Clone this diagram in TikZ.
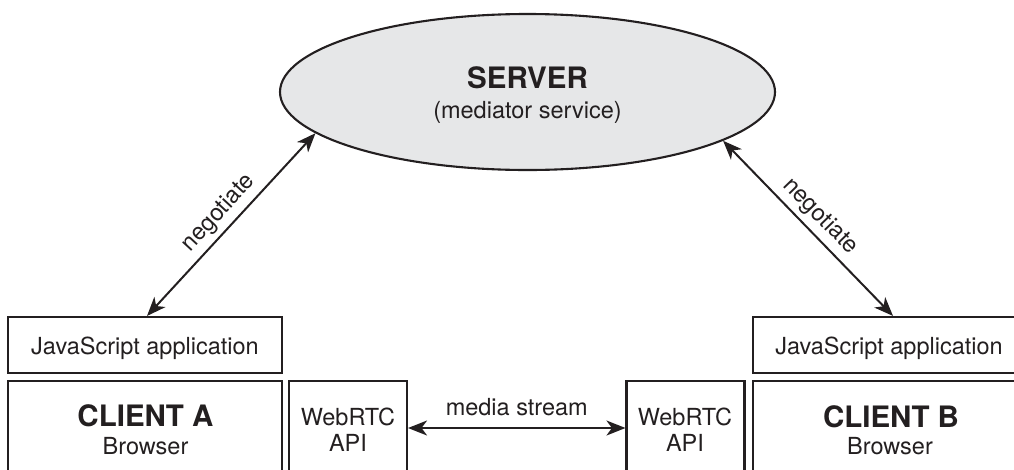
\documentclass[tikz,border=0pt]{standalone}
\usepackage{fontspec}
\setmainfont{TeX Gyre Heros}
\usetikzlibrary{shapes.geometric,arrows.meta}
\definecolor{ink}{HTML}{231F20}
\definecolor{servfill}{HTML}{E6E7E8}
\begin{document}
\begin{tikzpicture}[x=1pt,y=-1pt,
  box/.style={draw=ink, line width=2.1pt, inner sep=0pt},
  txt/.style={font=\fontsize{23.5pt}{27pt}\selectfont, text=ink, inner sep=0pt, anchor=base},
  ttl/.style={font=\fontsize{29.5pt}{34pt}\selectfont\bfseries, text=ink, inner sep=0pt, anchor=base},
  lbl/.style={font=\fontsize{23.5pt}{27pt}\selectfont, text=ink, inner sep=5pt},
  arr/.style={draw=ink, line width=2pt, {Stealth[length=19pt,width=15pt,inset=5.5pt]}-{Stealth[length=19pt,width=15pt,inset=5.5pt]}}
]
\clip (0,0) rectangle (1014,469);

% server
\node[ellipse, draw=ink, fill=servfill, line width=2.1pt, inner sep=0pt,
      minimum width=495pt, minimum height=156pt] (server) at (527.5,92) {};
\node[ttl] (serverTitle) at (527.5,88.3) {SERVER};
\node[txt] (serverSub) at (527.5,118.3) {(mediator service)};

% client A
\node[box, minimum width=274pt, minimum height=56pt] (jsA) at (145,345) {};
\node[txt] (jsAText) at (145,354) {JavaScript application};
\node[box, minimum width=274pt, minimum height=94pt] (clientA) at (145,428) {};
\node[ttl] (clientATitle) at (145.5,426.7) {CLIENT A};
\node[txt] (clientASub) at (145.5,454) {Browser};
\node[box, minimum width=118pt, minimum height=94pt] (webA) at (348,428) {};
\node[txt] (webAText1) at (348,425) {WebRTC};
\node[txt] (webAText2) at (348,451.7) {API};

% client B
\node[box, minimum width=274pt, minimum height=56pt] (jsB) at (890,345) {};
\node[txt] (jsBText) at (889,354) {JavaScript application};
\node[box, minimum width=274pt, minimum height=94pt] (clientB) at (890,428) {};
\node[ttl] (clientBTitle) at (891,427.5) {CLIENT B};
\node[txt] (clientBSub) at (890,454) {Browser};
\node[box, minimum width=118pt, minimum height=94pt] (webB) at (685.5,428) {};
\node[txt] (webBText1) at (685,425) {WebRTC};
\node[txt] (webBText2) at (685,451.7) {API};

% connectors
\draw[arr] ([xshift=2pt]jsA.north) -- (server.191.6)
  node[lbl, midway, sloped, above] (negA) {negotiate};
\draw[arr] (server.346.5) -- ([xshift=3pt]jsB.north)
  node[lbl, midway, sloped, above] (negB) {negotiate};
\draw[arr] (webA.east) -- (webB.west)
  node[midway, above=11pt, inner sep=0pt, font=\fontsize{23.5pt}{27pt}\selectfont, text=ink] (media) {media stream};
\end{tikzpicture}
\end{document}
